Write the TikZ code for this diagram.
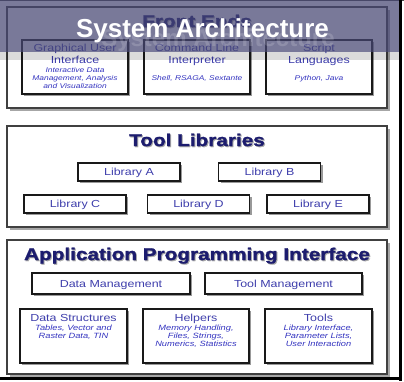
\documentclass[tikz,border=0pt]{standalone}
\usepackage{fontspec}
\setmainfont{Liberation Sans}[FakeStretch=1.22]
\newfontfamily\headfont{Liberation Sans}
\newfontfamily\panelfont{Liberation Sans}[FakeStretch=1.22,FakeBold=1.5]
\usetikzlibrary{positioning,shadows}

\definecolor{bandblue}{RGB}{70,70,115}
\definecolor{navy}{RGB}{28,28,110}
\definecolor{labelblue}{RGB}{62,62,172}
\definecolor{noteblue}{RGB}{52,52,192}

\tikzset{
  panel/.style={draw=black!75, line width=1.2pt, fill=white, inner sep=0pt,
    minimum width=380pt,
    drop shadow={shadow xshift=2.5pt, shadow yshift=-2.5pt, fill=black!35, opacity=1}},
  box/.style={draw=black!90, line width=1.2pt, fill=white, inner sep=0pt,
    drop shadow={shadow xshift=2pt, shadow yshift=-2pt, fill=black!40, opacity=1}},
  paneltitle/.style={anchor=base, inner sep=0pt, text=navy,
    font=\panelfont\bfseries\fontsize{17}{20}\selectfont},
  titleshadow/.style={paneltitle, text=black!35},
  boxlabel/.style={anchor=base, inner sep=0pt, align=center, text=labelblue,
    font=\fontsize{10.2}{12}\selectfont},
  note/.style={anchor=base, inner sep=0pt, align=center, text=noteblue,
    font=\itshape\fontsize{6.9}{8}\selectfont},
  apinote/.style={note, font=\itshape\fontsize{7.6}{8}\selectfont},
}

\begin{document}
\begin{tikzpicture}[x=1pt,y=-1pt]
  \useasboundingbox (0,0) rectangle (404,381);

  % front ends (multi-line texts sit on the baseline of their last line)
  \node[panel, minimum height=101pt] (front) at (197,57.5) {};
  \node[titleshadow] (front-sh) at (198,28) {Front Ends};
  \node[paneltitle] (front-title) at (197,27) {Front Ends};
  \node[box, minimum width=106pt, minimum height=54pt] (gui) at (75,67) {};
  \node[box, minimum width=106pt, minimum height=54pt] (cli) at (197,67) {};
  \node[box, minimum width=106pt, minimum height=54pt] (script) at (319,67) {};
  \node[boxlabel] (gui-label) at (75,63) {Graphical User\\Interface};
  \node[boxlabel] (cli-label) at (197,63) {Command Line\\Interpreter};
  \node[boxlabel] (script-label) at (319,63) {Script\\Languages};
  \node[note] (gui-note) at (75,88.5)
    {Interactive Data\\Management, Analysis\\and Visualization};
  \node[note] (cli-note) at (197,80.5) {Shell, RSAGA, Sextante};
  \node[note] (script-note) at (319,80.5) {Python, Java};

  % tool libraries
  \node[panel, minimum height=101pt] (tools-panel) at (197,176.5) {};
  \node[titleshadow] (libs-sh) at (198,147) {Tool Libraries};
  \node[paneltitle] (libs-title) at (197,146) {Tool Libraries};
  \foreach \name/\cx/\cy in {A/129/172, B/269.5/172, C/75/204, D/198.5/204, E/318/204} {
    \node[box, minimum width=102pt, minimum height=18pt] (lib\name) at (\cx,\cy) {};
    \node[boxlabel] (lib\name-label) at (\cx,\cy+3.5) {Library \name};
  }

  % application programming interface
  \node[panel, minimum height=134pt] (api) at (197,307) {};
  \node[titleshadow] (api-sh) at (198,261) {Application Programming Interface};
  \node[paneltitle] (api-title) at (197,260) {Application Programming Interface};
  \node[box, minimum width=158pt, minimum height=21pt] (datamgmt) at (111,283.5) {};
  \node[box, minimum width=157pt, minimum height=21pt] (toolmgmt) at (283.5,283.5) {};
  \node[boxlabel] (datamgmt-label) at (111,287) {Data Management};
  \node[boxlabel] (toolmgmt-label) at (283.5,287) {Tool Management};
  \node[box, minimum width=107pt, minimum height=54pt] (datastruct) at (73.5,336) {};
  \node[box, minimum width=106pt, minimum height=54pt] (helpers) at (196,336) {};
  \node[box, minimum width=107pt, minimum height=54pt] (apitools) at (318.5,336) {};
  \node[boxlabel] (datastruct-label) at (73.5,321) {Data Structures};
  \node[boxlabel] (helpers-label) at (196,321) {Helpers};
  \node[boxlabel] (apitools-label) at (318.5,321) {Tools};
  \node[apinote] (datastruct-note) at (73.5,338)
    {Tables, Vector and\\Raster Data, TIN};
  \node[apinote] (helpers-note) at (196,346)
    {Memory Handling,\\Files, Strings,\\Numerics, Statistics};
  \node[apinote] (apitools-note) at (318.5,346)
    {Library Interface,\\Parameter Lists,\\User Interaction};

  % window edges
  \draw[black!70, line width=1pt] (0,0.5) -- (404,0.5);
  \draw[black, line width=3pt] (400.5,0) -- (400.5,381);
  \draw[black, line width=3pt] (0,378.5) -- (402,378.5);

  % title band
  \fill[bandblue, opacity=0.72] (0,0) rectangle (399,52);
  \fill[black, opacity=0.14] (0,52) rectangle (399,60);
  \node[anchor=base, inner sep=0pt, text=white, opacity=0.16,
    font=\headfont\bfseries\fontsize{24}{28}\selectfont] (heading-ghost) at (218,46)
    {System Architecture};
  \node[anchor=base, inner sep=0pt, text=white,
    font=\headfont\bfseries\fontsize{26}{30}\selectfont] (heading) at (202.5,37)
    {System Architecture};
\end{tikzpicture}
\end{document}
